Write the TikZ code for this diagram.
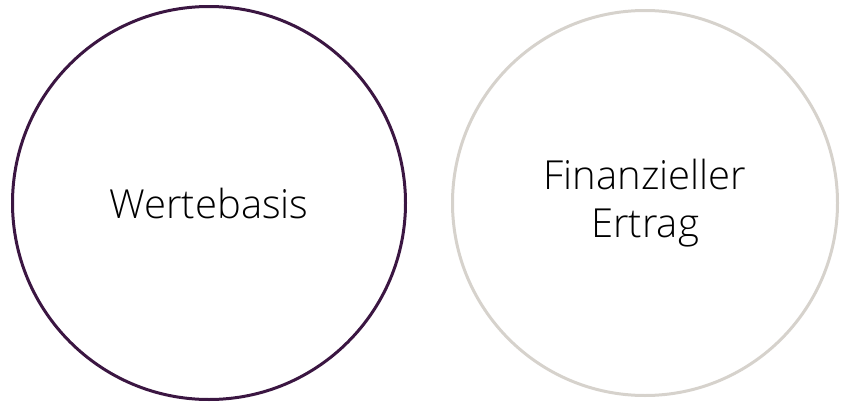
\documentclass[tikz,border=0pt]{standalone}
\usepackage{fontspec}
\setmainfont{Open Sans Light}
\usetikzlibrary{positioning}
\definecolor{wertpurple}{RGB}{59, 22, 66}
\definecolor{ertraggray}{RGB}{214, 210, 204}

\begin{document}
\begin{tikzpicture}[
        x=1pt, y=-1pt,
        topic/.style={circle, draw, line width=3pt, align=center, font=\fontsize{40}{48}\selectfont, text=black}
    ]
        \useasboundingbox (0, 0) rectangle (844, 402);

        % Left circle
        \node[topic, draw=wertpurple, minimum size=393pt] (werte) at (209, 203) {Wertebasis};

        % Right circle
        \node[topic, draw=ertraggray, minimum size=385pt] (ertrag) at (645, 203) {Finanzieller\\Ertrag};
    \end{tikzpicture}
\end{document}
